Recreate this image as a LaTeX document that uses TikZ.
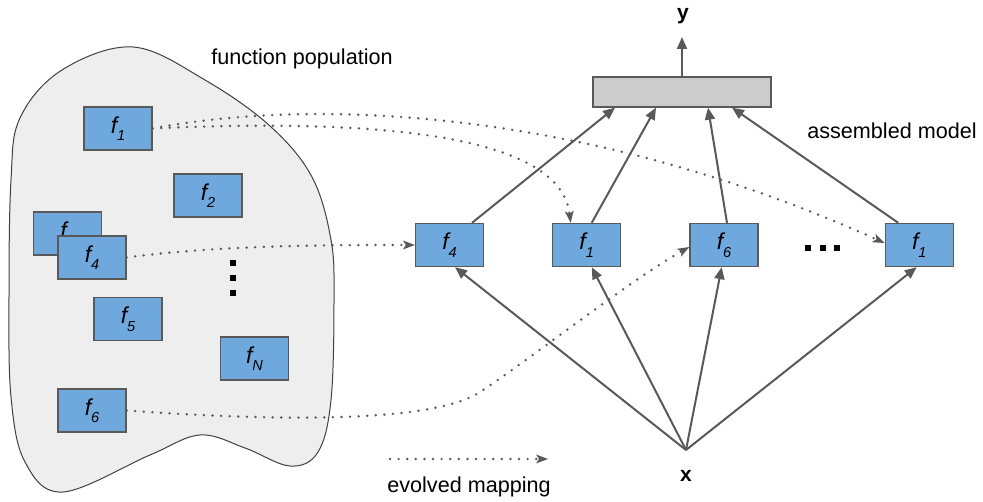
\documentclass[tikz,border=0pt]{standalone}
\usepackage{fontspec}
\setmainfont{Liberation Sans}
\usetikzlibrary{arrows.meta,calc}

\definecolor{edgegray}{HTML}{595959}
\definecolor{fnblue}{HTML}{6FA8DC}
\definecolor{blobfill}{HTML}{EEEEEE}
\definecolor{sumfill}{HTML}{CCCCCC}

% italic function name with a lowered italic index
\newcommand\fname[1]{{\fontsize{23}{23}\selectfont\itshape f}\raisebox{-7.5pt}{\fontsize{14.5}{14.5}\selectfont\itshape #1}}

\begin{document}
\begin{tikzpicture}[x=1pt,y=-1pt,
  fnode/.style={draw=edgegray, line width=1.3pt, fill=fnblue,
    minimum width=68pt, minimum height=43pt, inner sep=0pt},
  link/.style={draw=edgegray, line width=2pt,
    -{Triangle[length=12pt,width=10pt]}},
  mapping/.style={draw=edgegray, line width=2.7pt, line cap=round,
    dash pattern=on 0pt off 8.6pt,
    -{Stealth[length=12pt,width=9pt,inset=3pt,line width=0pt]}},
  lab/.style={font=\fontsize{21.6}{24}\selectfont, anchor=base},
  varlab/.style={font=\fontsize{21}{24}\selectfont\bfseries, anchor=base},
  dotmark/.style={fill=black}]

\useasboundingbox (0,0) rectangle (983,502);

% the population region
\draw[fill=blobfill, draw=black!75, line width=1pt]
  plot[smooth cycle, tension=0.6] coordinates {
    (133,47) (205,80) (270,126) (312,177) (331,240) (334,300) (331,400)
    (318,452) (290,466) (245,448) (200,435) (150,455) (63,492) (25,462)
    (11,397) (9,297) (11,180) (20,118) (62,70)};

\node[lab] (poplab) at (302,65) {function population};

% functions in the population
\node[fnode] (p1) at (118,128.5) {\fname{1}};
\node[fnode] (p2) at (208,195.5) {\fname{2}};
\node[fnode] (p3) at (67.5,233.5) {\fname{3}};
\node[fnode] (p4) at (92,257.5) {\fname{4}};
\node[fnode] (p5) at (128,319) {\fname{5}};
\node[fnode] (pN) at (254.5,358.5) {\fname{N}};
\node[fnode] (p6) at (92,410.5) {\fname{6}};

\fill[dotmark] (230,260) rectangle (236,266);
\fill[dotmark] (230,275) rectangle (236,281);
\fill[dotmark] (230,290) rectangle (236,296);

% assembled model
\node[draw=edgegray, line width=1.3pt, fill=sumfill,
  minimum width=178pt, minimum height=30pt, inner sep=0pt] (sum) at (682,92) {};
\node[varlab] (ylab) at (683,20) {y};
\coordinate (yend) at (682,37);
\draw[link] (sum.north) -- (yend);

\node[fnode] (m4) at (449.5,245) {\fname{4}};
\node[fnode] (m1) at (586.7,245) {\fname{1}};
\node[fnode] (m6) at (724,245) {\fname{6}};
\node[fnode] (mk) at (919.3,245) {\fname{1}};

\fill[dotmark] (805,245) rectangle (811,251);
\fill[dotmark] (820,245) rectangle (826,251);
\fill[dotmark] (834,245) rectangle (840,251);

\node[lab] (asmlab) at (892,139) {assembled model};

\node[varlab] (xlab) at (686,481.5) {x};
\coordinate (xin) at (686,450);

% input to every selected function
\draw[link] (xin) -- ($(m4.south)+(5.5,0)$);
\draw[link] (xin) -- ($(m1.south)+(5,0)$);
\draw[link] (xin) -- ($(m6.south)+(-2.3,0)$);
\draw[link] (xin) -- ($(mk.south)+(-2.6,0)$);

% outputs into the combiner
\draw[link] ($(m4.north)+(22.5,0)$) -- ($(sum.south)+(-67,0)$);
\draw[link] ($(m1.north)+(5,0)$) -- ($(sum.south)+(-26,0)$);
\draw[link] ($(m6.north)+(3,0)$) -- ($(sum.south)+(26,0)$);
\draw[link] ($(mk.north)+(-21,0)$) -- ($(sum.south)+(50,0)$);

% evolved mappings
\draw[mapping] (p1.east) .. controls (330,95) and (600,115) .. ($(mk.west)+(0,-2)$);
\draw[mapping] (p1.east) .. controls (380,118) and (560,135) .. ($(m1.north)+(-16,0)$);
\draw[mapping] (p4.east) .. controls (220,245) and (330,245) .. (m4.west);
\coordinate (bend) at (480,392);
\draw[mapping] (p6.east) .. controls (260,420) and (430,425) .. (bend)
  .. controls (530,359.5) and (630,280) .. ($(m6.west)+(0,2)$);

% legend
\coordinate (legA) at (390,459);
\coordinate (legB) at (548,459);
\draw[mapping] (legA) -- (legB);
\node[lab] (leglab) at (469,492.7) {evolved mapping};

\end{tikzpicture}
\end{document}
